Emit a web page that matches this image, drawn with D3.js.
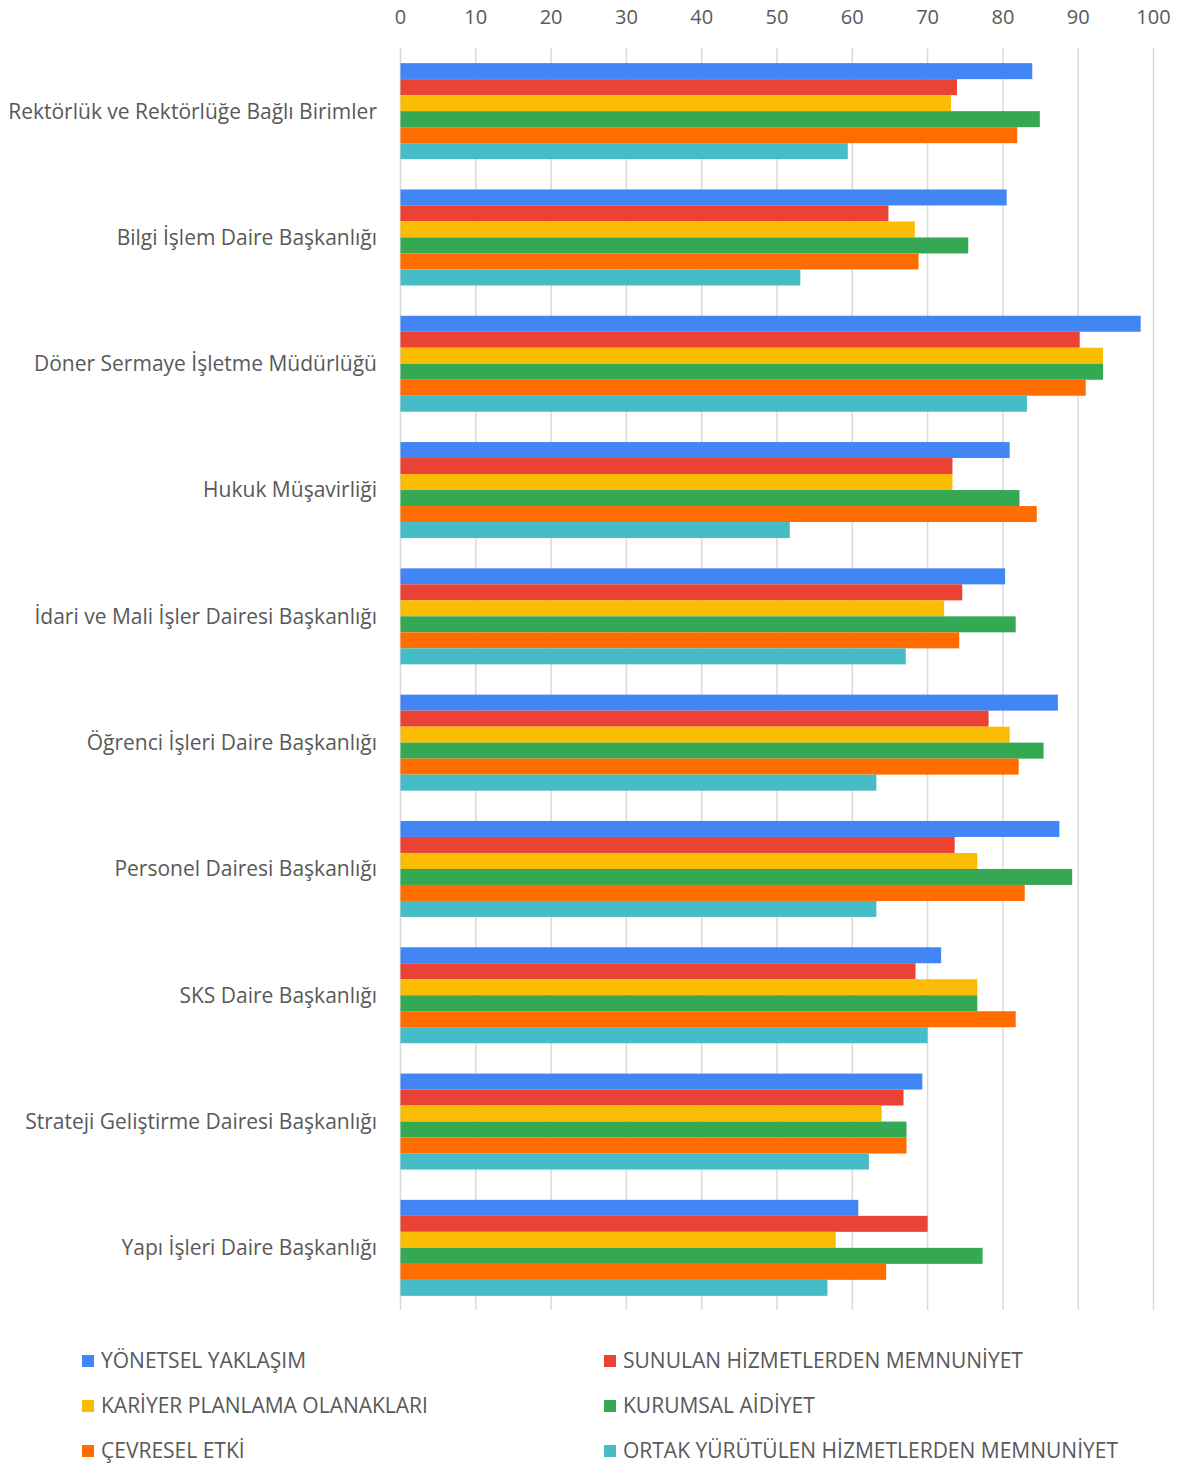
<!DOCTYPE html>
<html>
<head>
<meta charset="utf-8">
<script src="https://cdn.jsdelivr.net/npm/d3@7"></script>
<style>
  body { margin: 0; background: #fff; }
  text { font-family: "Open Sans", Lato, sans-serif; fill: #595959; }
</style>
</head>
<body>
<div class="chart"></div>
<script>
// categories (top to bottom)
const categories = [
	"Rektörlük ve Rektörlüğe Bağlı Birimler",
	"Bilgi İşlem Daire Başkanlığı",
	"Döner Sermaye İşletme Müdürlüğü",
	"Hukuk Müşavirliği",
	"İdari ve Mali İşler Dairesi Başkanlığı",
	"Öğrenci İşleri Daire Başkanlığı",
	"Personel Dairesi Başkanlığı",
	"SKS Daire Başkanlığı",
	"Strateji Geliştirme Dairesi Başkanlığı",
	"Yapı İşleri Daire Başkanlığı"
]

const seriesNames = [
	"YÖNETSEL YAKLAŞIM",
	"SUNULAN HİZMETLERDEN MEMNUNİYET",
	"KARİYER PLANLAMA OLANAKLARI",
	"KURUMSAL AİDİYET",
	"ÇEVRESEL ETKİ",
	"ORTAK YÜRÜTÜLEN HİZMETLERDEN MEMNUNİYET"
]
const colors = ["#4285f4", "#ea4335", "#fbbc04", "#34a853", "#ff6d01", "#46bdc6"]

// one array per series, same order as categories
const yonetsel  = [83.9, 80.5, 98.3, 80.9, 80.3, 87.3, 87.5, 71.8, 69.3, 60.8]
const sunulan   = [73.9, 64.8, 90.2, 73.3, 74.6, 78.1, 73.6, 68.4, 66.8, 70.0]
const kariyer   = [73.1, 68.3, 93.3, 73.3, 72.2, 80.9, 76.6, 76.6, 63.9, 57.8]
const aidiyet   = [84.9, 75.4, 93.3, 82.2, 81.7, 85.4, 89.2, 76.6, 67.2, 77.3]
const cevresel  = [81.9, 68.8, 91.0, 84.5, 74.2, 82.1, 82.9, 81.7, 67.2, 64.5]
const ortak     = [59.4, 53.1, 83.2, 51.7, 67.1, 63.2, 63.2, 70.0, 62.2, 56.7]

const seriesValues = [yonetsel, sunulan, kariyer, aidiyet, cevresel, ortak]
const xTicks = [0, 10, 20, 30, 40, 50, 60, 70, 80, 90, 100]

const width = 1179
const height = 1465

const svg = d3.select(".chart").append("svg")
	.attr("width", width)
	.attr("height", height)

const x = d3.scaleLinear()
	.domain([0, 100])
	.range([400.5, 1153.5])

const y0 = d3.scaleBand()
	.domain(categories)
	.range([48, 1311])
	.paddingInner(0.24)
	.paddingOuter(0.12)

const y1 = d3.scaleBand()
	.domain(d3.range(seriesNames.length))
	.range([0, y0.bandwidth()])

// gridlines
svg.append("g")
	.selectAll("line")
	.data(xTicks)
	.enter()
	.append("line")
	.attr("x1", d => x(d))
	.attr("x2", d => x(d))
	.attr("y1", 48)
	.attr("y2", 1310)
	.attr("stroke", "#d9d9d9")
	.attr("stroke-width", 1.5)

// top axis labels
svg.append("g")
	.selectAll("text")
	.data(xTicks)
	.enter()
	.append("text")
	.attr("x", d => x(d))
	.attr("y", 24)
	.attr("text-anchor", "middle")
	.attr("font-size", "20px")
	.text(d => d)

// bars
const groups = svg.append("g")
	.selectAll("g")
	.data(categories)
	.enter()
	.append("g")
	.attr("transform", d => "translate(0," + y0(d) + ")")

groups.selectAll("rect")
	.data((d, i) => seriesValues.map((vals, s) => ({ s: s, v: vals[i] })))
	.enter()
	.append("rect")
	.attr("x", x(0))
	.attr("y", d => y1(d.s))
	.attr("width", d => x(d.v) - x(0))
	.attr("height", y1.bandwidth())
	.attr("fill", d => colors[d.s])

// category labels
svg.append("g")
	.selectAll("text")
	.data(categories)
	.enter()
	.append("text")
	.attr("x", 377)
	.attr("y", d => y0(d) + y0.bandwidth() / 2)
	.attr("dy", "0.35em")
	.attr("text-anchor", "end")
	.attr("font-size", "21px")
	.text(d => d)

// legend
const legend = svg.append("g")
	.selectAll("g")
	.data(seriesNames)
	.enter()
	.append("g")
	.attr("transform", (d, i) => "translate(" + (i % 2 === 0 ? 82 : 604) + "," + (1361 + Math.floor(i / 2) * 45) + ")")

legend.append("rect")
	.attr("x", 0)
	.attr("y", -6)
	.attr("width", 12)
	.attr("height", 12)
	.attr("fill", (d, i) => colors[i])

legend.append("text")
	.attr("x", 19)
	.attr("y", 0)
	.attr("dy", "0.35em")
	.attr("font-size", "21px")
	.text(d => d)
</script>
</body>
</html>
